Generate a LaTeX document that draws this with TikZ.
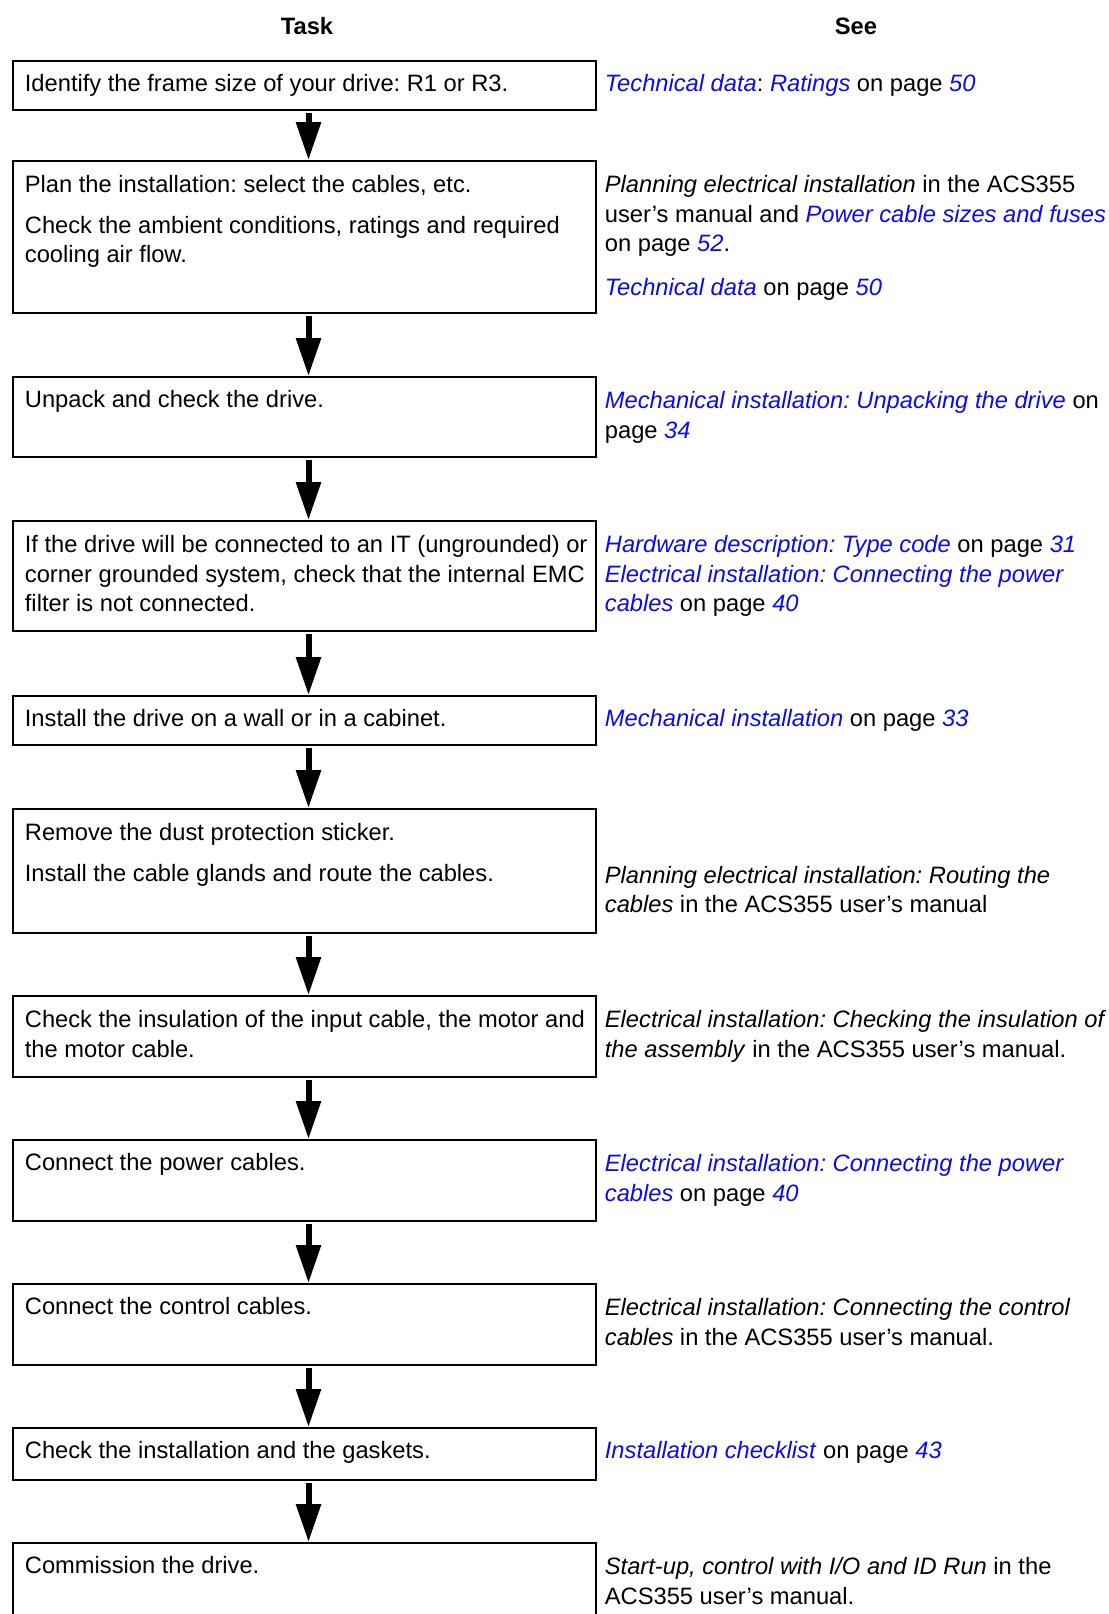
\documentclass[tikz,border=0pt]{standalone}
\usepackage{fontspec}
\setmainfont{Liberation Sans}
\usepackage{xcolor}
\usetikzlibrary{arrows.meta,positioning,calc}
\frenchspacing
\tikzset{
  >=Stealth,
  every node/.append style={font=\fontsize{11.85}{14.75}\selectfont},
}
\tikzset{
  taskbox/.style={draw, line width=1pt, anchor=north west, minimum width=291.5pt, inner sep=0pt},
  tasktext/.style={anchor=north west, align=left, inner sep=0pt, execute at begin node=\strut},
  multitext/.style={tasktext, yshift=-2.2pt},
  flowarrow/.style={-{Triangle[length=19pt,width=12pt]}, line width=3pt, shorten <=1pt},
  colhead/.style={font=\fontsize{11.85}{14.75}\selectfont\bfseries, anchor=base, inner sep=0pt}
}
\newcommand{\reflink}[1]{\textcolor{linkblue}{\textit{#1}}}

\begin{document}
\begin{tikzpicture}[x=0.5pt, y=-0.5pt]
% Color definitions
\definecolor{linkblue}{RGB}{10,10,245}

\useasboundingbox (0,0) rectangle (1109,1614);
\clip (0,0) rectangle (1109,1614);

% Column heads
\node[colhead] (taskhead) at (307,34) {Task};
\node[colhead] (seehead) at (856,34) {See};

% Task boxes
\node[taskbox, minimum height=24.5pt] (task1) at (12,60) {};
\node[taskbox, minimum height=76pt] (task2) at (12,160) {};
\node[taskbox, minimum height=40pt] (task3) at (12,376) {};
\node[taskbox, minimum height=55pt] (task4) at (12,520) {};
\node[taskbox, minimum height=24.5pt] (task5) at (12,695) {};
\node[taskbox, minimum height=62pt] (task6) at (12,808) {};
\node[taskbox, minimum height=40.5pt] (task7) at (12,995) {};
\node[taskbox, minimum height=40.5pt] (task8) at (12,1139) {};
\node[taskbox, minimum height=40.5pt] (task9) at (12,1283) {};
\node[taskbox, minimum height=26pt] (task10) at (12,1427) {};
\node[taskbox, minimum height=50pt] (task11) at (12,1542) {};

% Task texts
\node[tasktext] (text1) at ($(task1.north west)+(12.5,10.85)$) {Identify the frame size of your drive: R1 or R3.};
\node[multitext] (text2) at ($(task2.north west)+(12.5,10.85)$) {Plan the installation: select the cables, etc.\\[5.5pt]
  Check the ambient conditions, ratings and required\\ cooling air flow.};
\node[tasktext] (text3) at ($(task3.north west)+(12.5,10.85)$) {Unpack and check the drive.};
\node[multitext] (text4) at ($(task4.north west)+(12.5,10.85)$) {If the drive will be connected to an IT (ungrounded) or\\
  corner grounded system, check that the internal EMC\\ filter is not connected.};
\node[tasktext] (text5) at ($(task5.north west)+(12.5,10.85)$) {Install the drive on a wall or in a cabinet.};
\node[multitext] (text6) at ($(task6.north west)+(12.5,10.85)$) {Remove the dust protection sticker.\\[5.5pt]
  Install the cable glands and route the cables.};
\node[multitext] (text7) at ($(task7.north west)+(12.5,10.85)$) {Check the insulation of the input cable, the motor and\\ the motor cable.};
\node[tasktext] (text8) at ($(task8.north west)+(12.5,10.85)$) {Connect the power cables.};
\node[tasktext] (text9) at ($(task9.north west)+(12.5,10.85)$) {Connect the control cables.};
\node[tasktext] (text10) at ($(task10.north west)+(12.5,10.85)$) {Check the installation and the gaskets.};
\node[tasktext] (text11) at ($(task11.north west)+(12.5,10.85)$) {Commission the drive.};

% References
\node[tasktext] (see1) at ($(task1.north east)+(7.5,10.85)$) {\reflink{Technical data}: \reflink{Ratings} on page \reflink{50}};
\node[multitext] (see2) at ($(task2.north east)+(7.5,10.85)$) {\textit{Planning electrical installation} in the ACS355\\
  user’s manual and \reflink{Power cable sizes and fuses}\\ on page \reflink{52}.\\[7pt]
  \reflink{Technical data} on page \reflink{50}};
\node[multitext] (see3) at ($(task3.north east)+(7.5,10.85)$) {\reflink{Mechanical installation: Unpacking the drive} on\\ page \reflink{34}};
\node[multitext] (see4) at ($(task4.north east)+(7.5,10.85)$) {\reflink{Hardware description: Type code} on page \reflink{31}\\
  \reflink{Electrical installation: Connecting the power}\\ \reflink{cables} on page \reflink{40}};
\node[tasktext] (see5) at ($(task5.north east)+(7.5,10.85)$) {\reflink{Mechanical installation} on page \reflink{33}};
\node[multitext] (see6) at ($(task6.north east)+(7.5,53.35)$) {\textit{Planning electrical installation: Routing the}\\
  \textit{cables} in the ACS355 user’s manual};
\node[multitext] (see7) at ($(task7.north east)+(7.5,10.85)$) {\textit{Electrical installation: Checking the insulation of}\\
  \textit{the assembly} in the ACS355 user’s manual.};
\node[multitext] (see8) at ($(task8.north east)+(7.5,10.85)$) {\reflink{Electrical installation: Connecting the power}\\
  \reflink{cables} on page \reflink{40}};
\node[multitext] (see9) at ($(task9.north east)+(7.5,10.85)$) {\textit{Electrical installation: Connecting the control}\\
  \textit{cables} in the ACS355 user’s manual.};
\node[tasktext] (see10) at ($(task10.north east)+(7.5,10.85)$) {\reflink{Installation checklist} on page \reflink{43}};
\node[multitext] (see11) at ($(task11.north east)+(7.5,10.85)$) {\textit{Start-up, control with I/O and ID Run} in the\\
  ACS355 user’s manual.};

% Flow arrows
\draw[flowarrow] ([xshift=2pt]task1.south) -- ([xshift=2pt]task2.north);
\draw[flowarrow] ([xshift=2pt]task2.south) -- ([xshift=2pt]task3.north);
\draw[flowarrow] ([xshift=2pt]task3.south) -- ([xshift=2pt]task4.north);
\draw[flowarrow] ([xshift=2pt]task4.south) -- ([xshift=2pt]task5.north);
\draw[flowarrow] ([xshift=2pt]task5.south) -- ([xshift=2pt]task6.north);
\draw[flowarrow] ([xshift=2pt]task6.south) -- ([xshift=2pt]task7.north);
\draw[flowarrow] ([xshift=2pt]task7.south) -- ([xshift=2pt]task8.north);
\draw[flowarrow] ([xshift=2pt]task8.south) -- ([xshift=2pt]task9.north);
\draw[flowarrow] ([xshift=2pt]task9.south) -- ([xshift=2pt]task10.north);
\draw[flowarrow] ([xshift=2pt]task10.south) -- ([xshift=2pt]task11.north);
\end{tikzpicture}
\end{document}
